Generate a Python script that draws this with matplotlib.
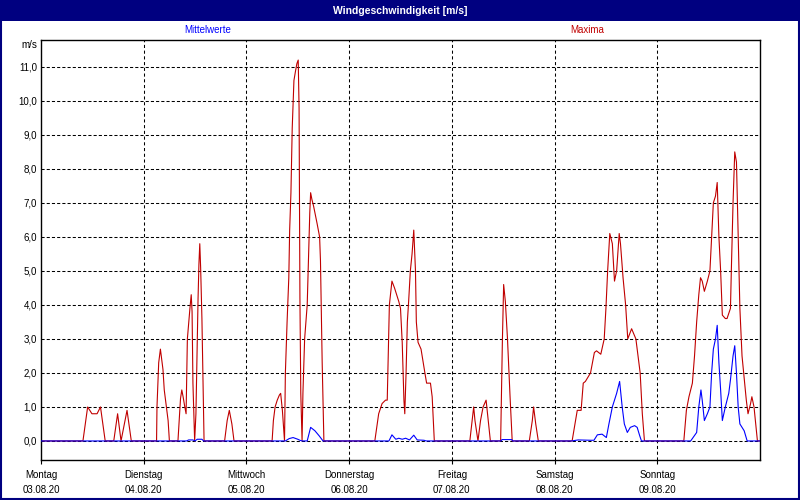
import matplotlib
matplotlib.use('Agg')
import matplotlib.pyplot as plt
from matplotlib.patches import Rectangle

plt.rcParams['font.family'] = ['Liberation Sans', 'DejaVu Sans']

TITLE = 'Windgeschwindigkeit [m/s]'
NAVY = '#000080'
RED = '#c00000'
BLUE = '#0000ff'

days = ['Montag', 'Dienstag', 'Mittwoch', 'Donnerstag', 'Freitag', 'Samstag', 'Sonntag']
dates = ['03.08.20', '04.08.20', '05.08.20', '06.08.20', '07.08.20', '08.08.20', '09.08.20']

# Maxima: hours since Monday 00:00, m/s
max_t = [0, 9.8, 10.9, 11.9, 13.1, 13.9, 15.0, 17.0, 17.9, 18.7, 20.1, 21.1,
         27.0, 27.1, 27.5, 27.9, 28.1, 28.5, 28.8, 29.3, 29.7, 30.0,
         32.0, 32.6, 32.9, 33.2, 33.6, 33.9, 34.2, 34.8, 35.1, 35.3, 35.5, 35.8, 35.9,
         36.2, 36.5, 36.7, 36.9, 37.1, 37.3, 37.6, 37.8, 38.0, 38.1,
         42.9, 43.5, 44.0, 44.6, 45.1,
         54.0, 54.3, 54.7, 55.2, 55.7, 56.0, 56.4, 56.9,
         57.1, 57.5, 57.9, 58.1, 58.4, 58.7, 59.1, 59.5, 59.8, 60.1, 60.3, 60.5, 60.7, 61.0,
         61.2, 61.6, 62.2, 62.5, 62.8, 63.0, 63.3, 63.7, 64.5, 65.1, 65.3, 65.7, 66.1,
         78.0, 78.9, 79.7, 80.5, 80.9, 81.4, 82.0, 82.6, 83.6, 84.0, 84.4, 84.8, 85.0,
         85.3, 85.6, 85.9, 86.3, 86.7, 87.1, 87.5, 87.7, 88.1, 88.8, 89.3, 89.7, 90.1,
         91.0, 91.4, 91.9,
         100.2, 101.1, 101.4, 102.1, 102.7, 103.3, 104.0, 104.5, 105.0,
         107.4, 107.8, 108.0, 108.1, 108.5, 109.0, 109.6, 110.1,
         114.1, 114.8, 115.1, 115.6, 116.2,
         124.1, 125.3, 126.2, 126.7, 127.2, 128.4, 129.3, 129.8, 130.8, 131.6, 132.0,
         132.4, 132.9, 133.5, 134.0, 134.5, 135.1, 135.4, 136.0, 136.6, 137.1, 138.0,
         139.0, 140.0, 140.5, 141.0,
         150.2, 150.8, 151.4, 152.2, 152.7, 153.2, 153.7, 154.1, 154.5, 155.0, 155.7,
         156.3, 156.7, 157.1, 157.6, 158.0, 158.4, 158.8, 159.2, 159.9, 160.3, 161.1,
         161.3, 161.7, 162.1, 162.5, 162.9, 163.3, 163.8, 164.4, 164.8, 165.2, 165.8,
         166.1, 166.6, 167.0, 167.4, 168.0]
max_v = [0, 0, 1.0, 0.8, 0.8, 1.0, 0, 0, 0.8, 0, 0.9, 0,
         0, 1.0, 2.3, 2.7, 2.5, 2.1, 1.5, 1.0, 0.6, 0,
         0, 1.25, 1.5, 1.3, 1.0, 0.8, 3.0, 3.9, 4.3, 3.8, 1.7, 0.5, 0,
         0.8, 2.9, 4.2, 5.2, 5.8, 5.1, 3.6, 2.2, 0.7, 0,
         0, 0.6, 0.9, 0.5, 0,
         0, 0.6, 1.0, 1.2, 1.35, 1.4, 0.9, 0,
         2.0, 3.5, 4.8, 6.2, 7.3, 9.2, 10.6, 10.9, 11.1, 11.2, 9.8, 4.2, 1.4, 0,
         1.4, 3.0, 4.0, 5.4, 6.7, 7.3, 7.1, 6.9, 6.4, 6.0, 5.3, 2.3, 0,
         0, 0.8, 1.1, 1.2, 1.2, 4.0, 4.7, 4.5, 4.1, 3.9, 2.9, 1.2, 0.8,
         2.0, 3.5, 4.1, 5.0, 5.5, 6.2, 5.0, 3.5, 2.9, 2.7, 2.3, 2.0, 1.7,
         1.7, 1.3, 0,
         0, 1.0, 0.6, 0, 0.6, 1.0, 1.2, 0.6, 0,
         0, 2.9, 4.0, 4.6, 4.1, 3.0, 1.3, 0,
         0, 0.6, 1.0, 0.5, 0,
         0, 0.9, 0.9, 1.7, 1.75, 2.0, 2.6, 2.65, 2.55, 3.0, 3.9,
         5.0, 6.1, 5.8, 4.7, 5.0, 6.1, 5.8, 4.8, 4.0, 3.0, 3.3,
         3.0, 2.0, 0.8, 0,
         0, 0.9, 1.3, 1.7, 2.5, 3.5, 4.3, 4.8, 4.7, 4.4, 4.7,
         5.0, 6.0, 7.0, 7.2, 7.6, 6.0, 5.0, 3.7, 3.6, 3.6, 3.9,
         5.0, 7.0, 8.5, 8.2, 6.0, 3.9, 2.5, 1.7, 1.2, 0.8, 1.1,
         1.3, 1.0, 0.5, 0, 0]

# Mittelwerte
mean_t = [0, 34.0, 34.5, 35.5, 36.0, 36.5, 37.6, 38.0,
          57.1, 58.0, 58.9, 60.0, 60.5, 61.0, 62.2, 63.0, 64.0, 65.0, 65.9,
          81.3, 82.0, 82.9, 83.6, 84.4, 85.2, 86.1, 87.1, 87.9, 89.5, 90.0,
          107.5, 107.7, 110.0, 110.2,
          124.0, 125.5, 128.5, 129.2, 130.0, 131.1, 132.1, 132.7, 133.5, 134.5, 135.2,
          135.8, 136.3, 137.0, 137.7, 138.7, 139.3, 139.9, 140.3,
          151.8, 153.2, 153.7, 154.2, 154.5, 155.0, 155.7, 156.3, 156.7, 157.1, 157.6,
          158.0, 158.4, 158.8, 159.2, 159.9, 160.7, 161.1, 161.7, 162.1, 162.5, 162.9,
          163.3, 164.3, 165.0, 168.0]
mean_v = [0, 0, 0.03, 0.03, 0, 0.05, 0.05, 0,
          0, 0.07, 0.1, 0.05, 0.02, 0, 0, 0.4, 0.3, 0.15, 0,
          0, 0.18, 0.05, 0.08, 0.05, 0.08, 0.03, 0.17, 0.03, 0.02, 0,
          0, 0.04, 0.04, 0,
          0, 0.03, 0.02, 0.02, 0.18, 0.2, 0.1, 0.5, 1.0, 1.4, 1.75,
          1.0, 0.5, 0.25, 0.4, 0.45, 0.4, 0.15, 0,
          0, 0.25, 1.0, 1.5, 1.2, 0.6, 0.8, 1.0, 2.0, 2.7, 3.0,
          3.4, 2.3, 1.5, 0.6, 1.0, 1.4, 1.8, 2.5, 2.8, 2.0, 1.0,
          0.5, 0.3, 0, 0]

fig = plt.figure(figsize=(8, 5), dpi=100, facecolor='white')
fig.patches.append(Rectangle((0, 1 - 21 / 500), 1, 21 / 500, transform=fig.transFigure,
                             facecolor=NAVY, edgecolor='none', zorder=0))
fig.patches.append(Rectangle((0.001, 0.002), 0.998, 0.996, transform=fig.transFigure,
                             fill=False, edgecolor=NAVY, lw=1.5, zorder=5))
fig.text(0.5, 1 - 10.5 / 500, TITLE, color='white', fontweight='bold', fontsize=7.5,
         ha='center', va='center')
fig.text(208 / 800, 1 - 30 / 500, 'Mittelwerte', color=BLUE, fontsize=7, ha='center', va='center')
fig.text(587 / 800, 1 - 30 / 500, 'Maxima', color=RED, fontsize=7, ha='center', va='center')
fig.text(37 / 800, 1 - 45 / 500, 'm/s', color='black', fontsize=7, ha='right', va='center')

ax = fig.add_axes([41 / 800, 40 / 500, 719 / 800, 420 / 500])
ax.set_xlim(0, 168)
ax.set_ylim(-0.56, 11.79)

for d in range(1, 7):
    ax.axvline(d * 24, color='black', lw=0.75, ls=(0, (3, 2.5)), zorder=1)
for v in range(0, 12):
    ax.axhline(v, color='black', lw=0.75, ls=(0, (3, 2)), zorder=1)

ax.plot(mean_t, mean_v, color=BLUE, lw=0.8, zorder=3)
ax.plot(max_t, max_v, color=RED, lw=0.8, zorder=2)

ax.set_yticks(range(0, 12))
ax.set_yticklabels([f'{v},0' for v in range(0, 12)], fontsize=7)
ax.tick_params(axis='y', length=0, pad=3)
ax.set_xticks([d * 24 for d in range(7)])
ax.set_xticklabels([f'{n}\n{dt}' for n, dt in zip(days, dates)], fontsize=7, linespacing=1.6)
ax.tick_params(axis='x', length=3, direction='out', pad=4)
for s in ax.spines.values():
    s.set_linewidth(1.0)
    s.set_color('black')

fig.savefig('out.png', dpi=100)
